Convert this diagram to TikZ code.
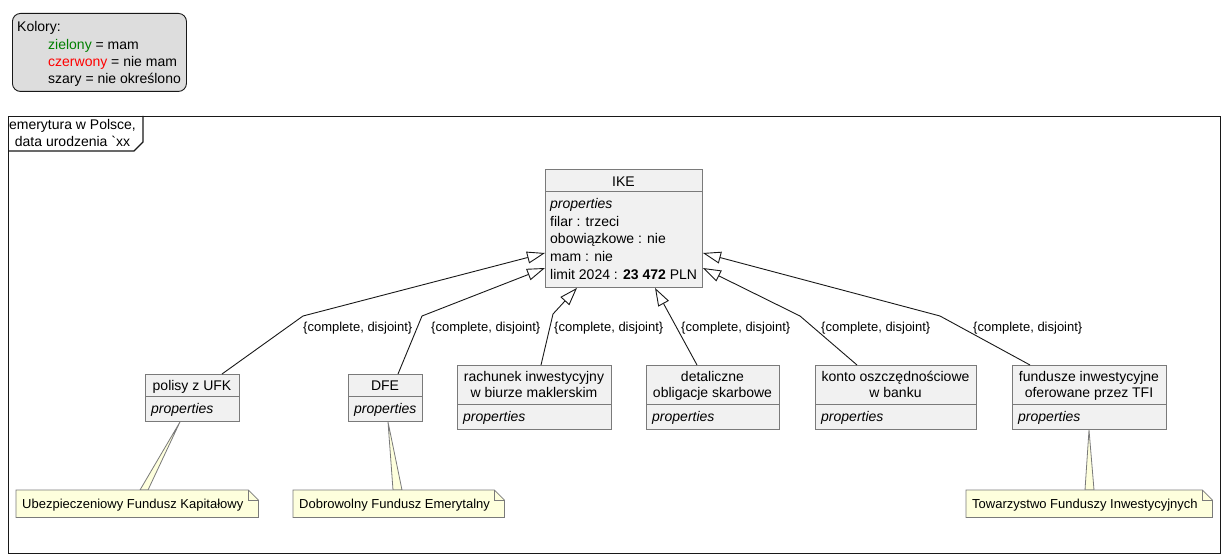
\documentclass[tikz,border=0pt]{standalone}
\usepackage{fontspec}
\setmainfont{Liberation Sans}[Ligatures=TeXOff]
\usetikzlibrary{arrows.meta,calc}

\definecolor{ink}{HTML}{181818}
\definecolor{boxline}{HTML}{7A7A7A}
\definecolor{boxfill}{HTML}{F1F1F1}
\definecolor{notefill}{HTML}{FEFFDD}
\definecolor{legendfill}{HTML}{DDDDDD}
\definecolor{okgreen}{HTML}{008000}
\definecolor{nored}{HTML}{FF0000}

\tikzset{
  cls/.style={rectangle, draw=boxline, fill=boxfill, line width=0.9pt,
    inner sep=0pt, anchor=north west},
  sepline/.style={draw=boxline, line width=0.9pt},
  big/.style={font=\fontsize{14}{16}\selectfont, inner sep=0pt},
  small/.style={font=\fontsize{13}{15}\selectfont, inner sep=0pt},
  gen/.style={draw=ink, line width=0.9pt, line join=miter,
    -{Triangle[length=18pt, width=12pt, fill=white]}},
  notebody/.style={draw=boxline, fill=notefill, line width=0.8pt},
  anchorbox/.style={rectangle, inner sep=0pt, anchor=north west},
}

\begin{document}
\begin{tikzpicture}[x=1pt, y=-1pt]
\useasboundingbox (0,0) rectangle (1228,559);

% legend
\node[anchorbox, draw=ink, fill=legendfill, rounded corners=8pt, line width=0.9pt,
  minimum width=174pt, minimum height=78pt] (legend) at (12,13) {};
\node[big, anchor=base west] (legT) at (17,32) {Kolory:};
\node[big, anchor=base west] (legA) at (48,49.5) {\textcolor{okgreen}{zielony} = mam};
\node[big, anchor=base west] (legB) at (48,66.5) {\textcolor{nored}{czerwony} = nie mam};
\node[big, anchor=base west] (legC) at (48,83.5) {szary = nie określono};

% package frame with its tab
\node[anchorbox, draw=ink, line width=1.2pt,
  minimum width=1212pt, minimum height=437pt] (frame) at (8,116) {};
\draw[draw=ink, line width=1.2pt] ([xshift=135pt]frame.north west) -- ++(0,26) -- ++(-9,9)
  -- ([yshift=-35pt]frame.north west);
\node[big, anchor=base] (ftitleA) at (72.5,130) {emerytura w Polsce,};
\node[big, anchor=base] (ftitleB) at (72.5,146.5) {data urodzenia `xx};

% IKE
\node[cls, minimum width=157pt, minimum height=118pt] (ike) at (545,169) {};
\draw[sepline] ([yshift=-22pt]ike.north west) -- ([yshift=-22pt]ike.north east);
\node[big, anchor=base] (ikeN) at (623.5,186) {IKE};
\node[big, anchor=base west] (ikeP) at (550,208) {\textit{properties}};
\node[big, anchor=base west] (ikeA) at (550,226) {filar : trzeci};
\node[big, anchor=base west] (ikeB) at (550,243.5) {obowiązkowe : nie};
\node[big, anchor=base west] (ikeC) at (550,261.5) {mam : nie};
\node[big, anchor=base west] (ikeD) at (550,279) {limit 2024 : \textbf{23 472} PLN};

% subclasses with a one-line name
\node[cls, minimum width=94pt, minimum height=47pt] (ufk) at (145,374) {};
\draw[sepline] ([yshift=-22pt]ufk.north west) -- ([yshift=-22pt]ufk.north east);
\node[big, anchor=base] (ufkN) at (192,390) {polisy z UFK};
\node[big, anchor=base west] (ufkP) at (151,413) {\textit{properties}};

\node[cls, minimum width=74pt, minimum height=47pt] (dfe) at (348,374) {};
\draw[sepline] ([yshift=-22pt]dfe.north west) -- ([yshift=-22pt]dfe.north east);
\node[big, anchor=base] (dfeN) at (385,390) {DFE};
\node[big, anchor=base west] (dfeP) at (354,413) {\textit{properties}};

% subclasses with a two-line name
\node[cls, minimum width=154pt, minimum height=64pt] (rach) at (457,365) {};
\draw[sepline] ([yshift=-39pt]rach.north west) -- ([yshift=-39pt]rach.north east);
\node[big, anchor=base] (rachA) at (534,381.5) {rachunek inwestycyjny};
\node[big, anchor=base] (rachB) at (534,397.5) {w biurze maklerskim};
\node[big, anchor=base west] (rachP) at (463,421) {\textit{properties}};

\node[cls, minimum width=133pt, minimum height=64pt] (obl) at (646,365) {};
\draw[sepline] ([yshift=-39pt]obl.north west) -- ([yshift=-39pt]obl.north east);
\node[big, anchor=base] (oblA) at (712.5,381.5) {detaliczne};
\node[big, anchor=base] (oblB) at (712.5,397.5) {obligacje skarbowe};
\node[big, anchor=base west] (oblP) at (652,421) {\textit{properties}};

\node[cls, minimum width=161pt, minimum height=64pt] (konto) at (815,365) {};
\draw[sepline] ([yshift=-39pt]konto.north west) -- ([yshift=-39pt]konto.north east);
\node[big, anchor=base] (kontoA) at (895.5,381.5) {konto oszczędnościowe};
\node[big, anchor=base] (kontoB) at (895.5,397.5) {w banku};
\node[big, anchor=base west] (kontoP) at (821,421) {\textit{properties}};

\node[cls, minimum width=154pt, minimum height=64pt] (tfi) at (1012,365) {};
\draw[sepline] ([yshift=-39pt]tfi.north west) -- ([yshift=-39pt]tfi.north east);
\node[big, anchor=base] (tfiA) at (1089,381.5) {fundusze inwestycyjne};
\node[big, anchor=base] (tfiB) at (1089,397.5) {oferowane przez TFI};
\node[big, anchor=base west] (tfiP) at (1018,421) {\textit{properties}};

% bends of the generalization lines
\coordinate (k1) at (303,316);
\coordinate (k2) at (422,316);
\coordinate (k3) at (553,314);
\coordinate (k5) at (800,316);
\coordinate (k6) at (940,316);

% generalizations towards IKE
\draw[gen] ([xshift=77pt]ufk.north west) -- (k1) -- ([yshift=-84pt]ike.north west);
\draw[gen] ([xshift=50pt]dfe.north west) -- (k2) -- ([yshift=-99pt]ike.north west);
\draw[gen] ([xshift=84pt]rach.north west) -- (k3) -- ([xshift=32pt]ike.south west);
\draw[gen] ([xshift=51pt]obl.north west) -- ([xshift=110pt]ike.south west);
\draw[gen] ([xshift=42pt]konto.north west) -- (k5) -- ([yshift=-99pt]ike.north east);
\draw[gen] ([xshift=18pt]tfi.north west) -- (k6) -- ([yshift=-84pt]ike.north east);

% constraint labels
\node[small, anchor=base west] (l1) at (303,331) {\{complete, disjoint\}};
\node[small, anchor=base west] (l2) at (431,331) {\{complete, disjoint\}};
\node[small, anchor=base west] (l3) at (554,331) {\{complete, disjoint\}};
\node[small, anchor=base west] (l4) at (681,331) {\{complete, disjoint\}};
\node[small, anchor=base west] (l5) at (821,331) {\{complete, disjoint\}};
\node[small, anchor=base west] (l6) at (973,331) {\{complete, disjoint\}};

% notes
\node[anchorbox, minimum width=242pt, minimum height=27pt] (n1) at (16,490) {};
\node[anchorbox, minimum width=211pt, minimum height=27pt] (n2) at (293,490) {};
\node[anchorbox, minimum width=246pt, minimum height=27pt] (n3) at (966,490) {};

\draw[notebody] ([xshift=124pt]n1.north west) -- ([xshift=35pt]ufk.south west)
  -- ([xshift=132pt]n1.north west) -- cycle;
\draw[notebody] ([xshift=100pt]n2.north west) -- ([xshift=40pt]dfe.south west)
  -- ([xshift=109pt]n2.north west) -- cycle;
\draw[notebody] ([xshift=119pt]n3.north west) -- ([xshift=77pt]tfi.south west)
  -- ([xshift=128pt]n3.north west) -- cycle;

\foreach \n in {n1,n2,n3}{
  \draw[notebody] (\n.north west) -- ([xshift=-10pt]\n.north east)
    -- ([yshift=-10pt]\n.north east) -- (\n.south east) -- (\n.south west) -- cycle;
  \draw[draw=boxline, line width=0.8pt] ([xshift=-10pt]\n.north east)
    -- ([xshift=-10pt,yshift=-10pt]\n.north east) -- ([yshift=-10pt]\n.north east);
}
\node[small, anchor=base west] (n1t) at (22,508) {Ubezpieczeniowy Fundusz Kapitałowy};
\node[small, anchor=base west] (n2t) at (299,508) {Dobrowolny Fundusz Emerytalny};
\node[small, anchor=base west] (n3t) at (972,508) {Towarzystwo Funduszy Inwestycyjnych};
\end{tikzpicture}
\end{document}
